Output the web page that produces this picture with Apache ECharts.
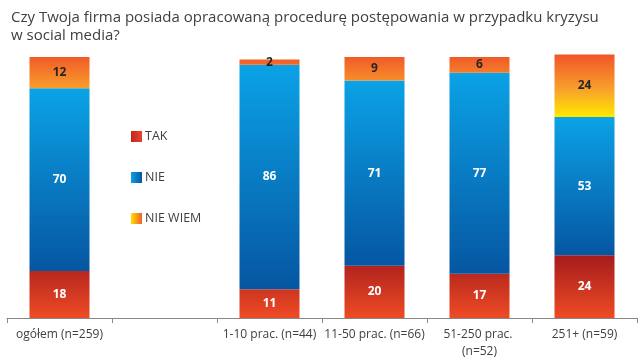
<!DOCTYPE html>
<html><head><meta charset="utf-8">
<script src="https://cdn.jsdelivr.net/npm/echarts@6/dist/echarts.min.js"></script>
<style>html,body{margin:0;padding:0;background:#fff}#c{width:640px;height:363px}</style>
</head><body><div id="c"></div>
<script>
const titleText = 'Czy Twoja firma posiada opracowaną procedurę postępowania w przypadku kryzysu\nw social media?';
const categories = ['ogółem (n=259)', '', '1-10 prac. (n=44)', '11-50 prac. (n=66)', '51-250 prac. (n=52)', '251+ (n=59)'];
const seriesNames = ['TAK', 'NIE', 'NIE WIEM'];
const takValues = [18, null, 11, 20, 17, 24];
const nieValues = [70, null, 86, 71, 77, 53];
const nieWiemValues = [12, null, 2, 9, 6, 24];

const G = echarts.graphic.LinearGradient;
const takFill = new G(0, 255, 0, 316, [{offset: 0, color: '#a51b1d'}, {offset: 1, color: '#ec4a24'}], true);
const nieFill = new G(0, 0, 0, 1, [{offset: 0, color: '#0ba2e6'}, {offset: 1, color: '#0656a1'}]);
const nwFill = new G(0, 55, 0, 117, [{offset: 0, color: '#f05628'}, {offset: 0.55, color: '#f8a02c'}, {offset: 1, color: '#ffe900'}], true);

const chart = echarts.init(document.getElementById('c'), null, {renderer: 'canvas'});
const font = 'Open Sans';
function mk(name, data, fill, labelColor) {
  return {
    name, type: 'bar', stack: 'a', data, barWidth: 60, clip: false,
    itemStyle: {color: fill},
    label: {show: true, position: 'inside', color: labelColor, fontFamily: font, fontWeight: 'bold', fontSize: 12}
  };
}
chart.setOption({
  animation: false,
  title: {text: titleText, left: 6, top: 4, textStyle: {fontFamily: font, fontWeight: 'normal', fontSize: 15, color: '#404040', lineHeight: 18}},
  legend: {
    orient: 'vertical', left: 126, top: 125, itemGap: 28, itemWidth: 11, itemHeight: 11, icon: 'rect',
    textStyle: {fontFamily: font, fontSize: 12.5, color: '#404040', padding: [0, 0, 0, -2]},
    data: [
      {name: seriesNames[0], itemStyle: {color: new G(0, 0, 1, 0, [{offset: 0, color: '#c0261f'}, {offset: 1, color: '#e8442a'}])}},
      {name: seriesNames[1], itemStyle: {color: new G(0, 0, 1, 0, [{offset: 0, color: '#0aa3e9'}, {offset: 1, color: '#0656a1'}])}},
      {name: seriesNames[2], itemStyle: {color: new G(0, 0, 1, 0, [{offset: 0, color: '#ffe000'}, {offset: 1, color: '#f06028'}])}}
    ]
  },
  grid: {left: 7, right: 3, top: 57, bottom: 45},
  xAxis: {
    type: 'category', data: categories,
    axisLine: {lineStyle: {color: '#888888', width: 1}},
    axisTick: {show: true, length: 5, lineStyle: {color: '#888888'}},
    axisLabel: {fontFamily: font, fontSize: 12, color: '#404040', margin: 8, interval: 0, width: 104, overflow: 'break', lineHeight: 17}
  },
  yAxis: {type: 'value', min: 0, max: 100, show: false, splitLine: {show: false}},
  series: [
    mk(seriesNames[0], takValues, takFill, '#ffffff'),
    mk(seriesNames[1], nieValues, nieFill, '#ffffff'),
    mk(seriesNames[2], nieWiemValues, nwFill, '#262626')
  ]
});
</script></body></html>
